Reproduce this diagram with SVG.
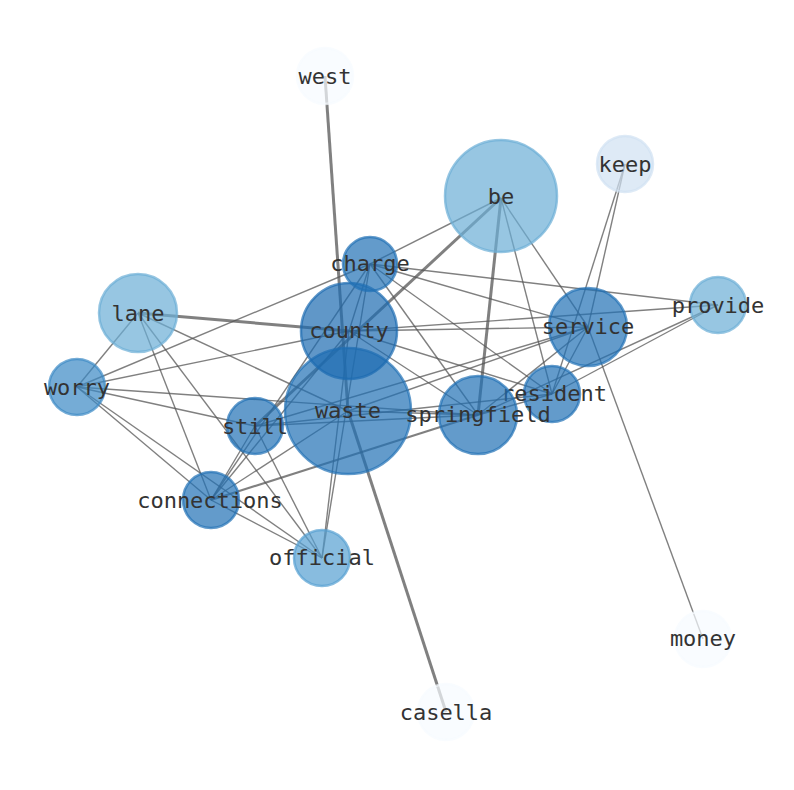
<svg xmlns="http://www.w3.org/2000/svg" width="794" height="790" viewBox="0 0 794 790">
<style>
.e{stroke:#555;stroke-opacity:.75;stroke-width:1.4;fill:none}
.t{stroke-width:3}
.m{stroke-width:2.2}
.n{fill-opacity:.7;stroke-opacity:.7;stroke-width:2.5}
.l{font-family:"DejaVu Sans Mono","Liberation Mono",monospace;font-size:22px;fill:#333;text-anchor:middle;dominant-baseline:central}
</style>
<rect width="794" height="790" fill="#fff"/>
<g id="edges">
<line class="e t" x1="325" y1="76" x2="348" y2="411"/>
<line class="e t" x1="348" y1="411" x2="446" y2="712"/>
<line class="e t" x1="138" y1="313" x2="349" y2="331"/>
<line class="e t" x1="501" y1="198" x2="255" y2="426"/>
<line class="e t" x1="501" y1="198" x2="478" y2="415"/>
<line class="e m" x1="211" y1="500" x2="478" y2="415"/>
<line class="e" x1="625" y1="164" x2="588" y2="327"/>
<line class="e" x1="625" y1="164" x2="552" y2="394"/>
<line class="e" x1="501" y1="198" x2="370" y2="264"/>
<line class="e" x1="501" y1="198" x2="552" y2="394"/>
<line class="e" x1="501" y1="198" x2="588" y2="327"/>
<line class="e" x1="588" y1="327" x2="703" y2="639"/>
<line class="e" x1="370" y1="264" x2="718" y2="305"/>
<line class="e" x1="370" y1="264" x2="588" y2="327"/>
<line class="e" x1="370" y1="264" x2="552" y2="394"/>
<line class="e" x1="370" y1="264" x2="478" y2="415"/>
<line class="e" x1="370" y1="264" x2="77" y2="387"/>
<line class="e" x1="370" y1="264" x2="349" y2="331"/>
<line class="e" x1="370" y1="264" x2="211" y2="500"/>
<line class="e" x1="370" y1="264" x2="322" y2="558"/>
<line class="e" x1="349" y1="331" x2="77" y2="387"/>
<line class="e" x1="349" y1="331" x2="588" y2="327"/>
<line class="e" x1="349" y1="331" x2="718" y2="305"/>
<line class="e" x1="349" y1="331" x2="552" y2="394"/>
<line class="e" x1="349" y1="331" x2="478" y2="415"/>
<line class="e" x1="349" y1="331" x2="211" y2="500"/>
<line class="e" x1="349" y1="331" x2="322" y2="558"/>
<line class="e" x1="138" y1="313" x2="77" y2="387"/>
<line class="e" x1="138" y1="313" x2="211" y2="500"/>
<line class="e" x1="138" y1="313" x2="322" y2="558"/>
<line class="e" x1="138" y1="313" x2="348" y2="411"/>
<line class="e" x1="77" y1="387" x2="255" y2="426"/>
<line class="e" x1="77" y1="387" x2="478" y2="415"/>
<line class="e" x1="77" y1="387" x2="211" y2="500"/>
<line class="e" x1="77" y1="387" x2="322" y2="558"/>
<line class="e" x1="255" y1="426" x2="211" y2="500"/>
<line class="e" x1="255" y1="426" x2="322" y2="558"/>
<line class="e" x1="255" y1="426" x2="478" y2="415"/>
<line class="e" x1="255" y1="426" x2="588" y2="327"/>
<line class="e" x1="255" y1="426" x2="552" y2="394"/>
<line class="e" x1="211" y1="500" x2="322" y2="558"/>
<line class="e" x1="211" y1="500" x2="348" y2="411"/>
<line class="e" x1="348" y1="411" x2="588" y2="327"/>
<line class="e" x1="348" y1="411" x2="478" y2="415"/>
<line class="e" x1="478" y1="415" x2="552" y2="394"/>
<line class="e" x1="478" y1="415" x2="718" y2="305"/>
<line class="e" x1="552" y1="394" x2="718" y2="305"/>
<line class="e" x1="552" y1="394" x2="588" y2="327"/>
<line class="e" x1="478" y1="415" x2="588" y2="327"/>
</g>
<g id="west"><circle class="n" cx="325" cy="76" r="28" fill="#f7fbff" stroke="#f7fbff"/><text class="l" x="325" y="76">west</text></g>
<g id="keep"><circle class="n" cx="625" cy="164" r="28" fill="#d0e1f2" stroke="#d0e1f2"/><text class="l" x="625" y="164">keep</text></g>
<g id="be"><circle class="n" cx="501" cy="196" r="56" fill="#6baed6" stroke="#6baed6"/><text class="l" x="501" y="196">be</text></g>
<g id="lane"><circle class="n" cx="138" cy="313" r="39" fill="#6baed6" stroke="#6baed6"/><text class="l" x="138" y="313">lane</text></g>
<g id="provide"><circle class="n" cx="718" cy="305" r="28" fill="#6baed6" stroke="#6baed6"/><text class="l" x="718" y="305">provide</text></g>
<g id="worry"><circle class="n" cx="77" cy="387" r="28" fill="#3a89c4" stroke="#3a89c4"/><text class="l" x="77" y="387">worry</text></g>
<g id="official"><circle class="n" cx="322" cy="558" r="28" fill="#559fd2" stroke="#559fd2"/><text class="l" x="322" y="557">official</text></g>
<g id="waste"><circle class="n" cx="348" cy="411" r="63" fill="#2171b5" stroke="#2171b5"/><text class="l" x="348" y="410">waste</text></g>
<g id="county"><circle class="n" cx="349" cy="331" r="48" fill="#1c6bb0" stroke="#1c6bb0"/><text class="l" x="349" y="330">county</text></g>
<g id="charge"><circle class="n" cx="370" cy="264" r="27" fill="#2171b5" stroke="#2171b5"/><text class="l" x="370" y="263">charge</text></g>
<g id="service"><circle class="n" cx="588" cy="327" r="39" fill="#2171b5" stroke="#2171b5"/><text class="l" x="588" y="326">service</text></g>
<g id="resident"><circle class="n" cx="552" cy="394" r="28" fill="#2171b5" stroke="#2171b5"/><text class="l" x="554" y="393">resident</text></g>
<g id="springfield"><circle class="n" cx="478" cy="415" r="39" fill="#2171b5" stroke="#2171b5"/><text class="l" x="478" y="414">springfield</text></g>
<g id="still"><circle class="n" cx="255" cy="426" r="28" fill="#2171b5" stroke="#2171b5"/><text class="l" x="255" y="426">still</text></g>
<g id="connections"><circle class="n" cx="211" cy="500" r="28" fill="#2171b5" stroke="#2171b5"/><text class="l" x="210" y="500">connections</text></g>
<g id="money"><circle class="n" cx="703" cy="639" r="28" fill="#f7fbff" stroke="#f7fbff"/><text class="l" x="703" y="638">money</text></g>
<g id="casella"><circle class="n" cx="446" cy="712" r="28" fill="#f7fbff" stroke="#f7fbff"/><text class="l" x="446" y="712">casella</text></g>
</svg>
